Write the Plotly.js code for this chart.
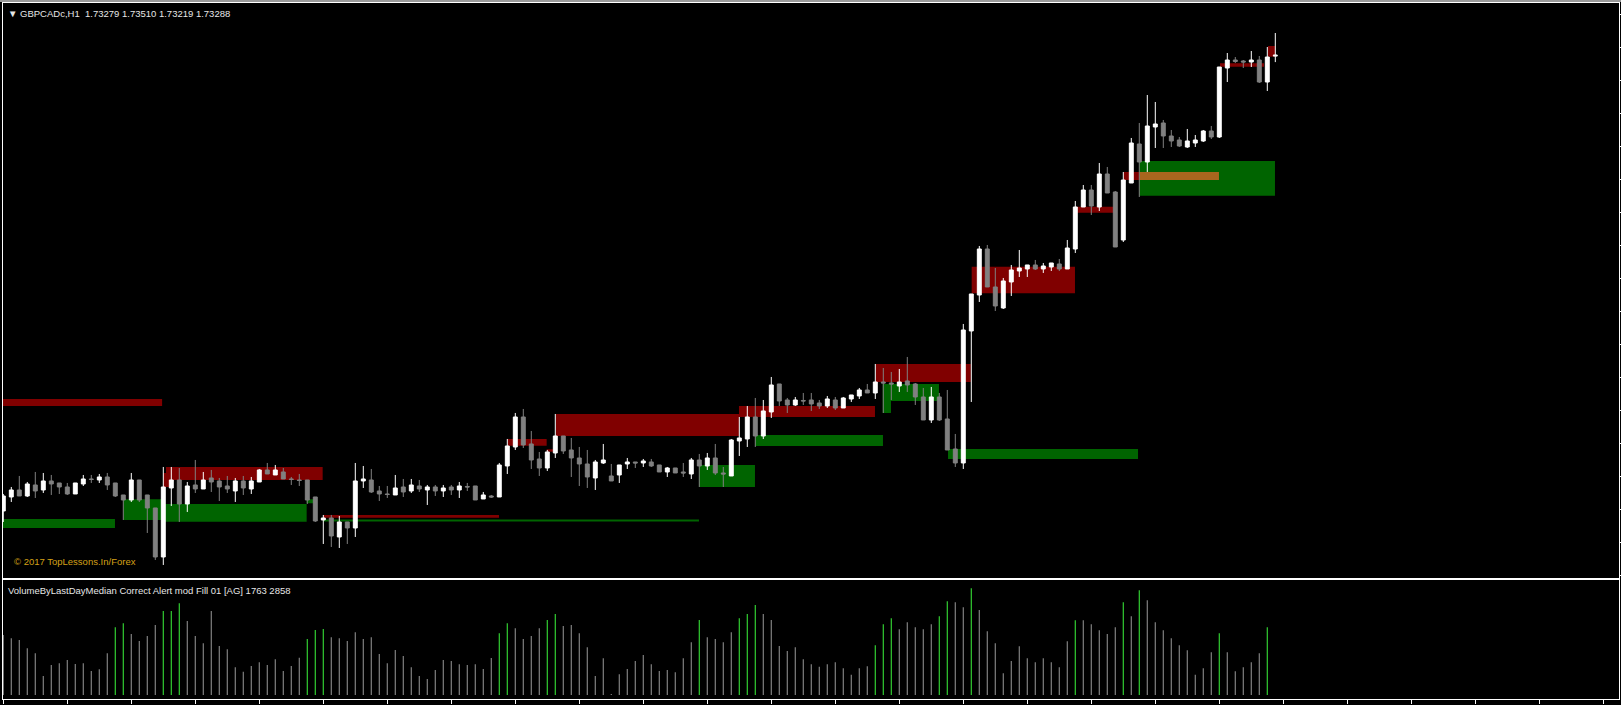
<!DOCTYPE html>
<html><head><meta charset="utf-8">
<script src="https://cdn.plot.ly/plotly-3.0.1.min.js"></script>
<style>html,body{margin:0;padding:0;background:#000;overflow:hidden}#chart{width:1621px;height:705px}</style>
</head><body><div id="chart"></div>
<script>
// ---- chart text ----
const symbol = "GBPCADc,H1";
const lastQuote = ["1.73279", "1.73510", "1.73219", "1.73288"];
const indicatorName = "VolumeByLastDayMedian Correct Alert mod Fill 01 [AG]";
const indicatorValues = ["1763", "2858"];
const watermark = "© 2017 TopLessons.In/Forex";

// ---- H1 candles (bar 0 = oldest visible) ----
const open = [
1.6873,1.6887,1.6894,1.6888,1.6899,1.6894,1.6903,1.6901,1.6897,1.6890,
1.6900,1.6905,1.6904,1.6907,1.6901,1.6889,1.6884,1.6904,1.6889,1.6876,
1.6827,1.6896,1.6904,1.6880,1.6899,1.6895,1.6906,1.6903,1.6898,1.6893,
1.6903,1.6895,1.6902,1.6914,1.6909,1.6912,1.6905,1.6904,1.6904,1.6887,
1.6864,1.6866,1.6847,1.6862,1.6856,1.6903,1.6904,1.6893,1.6890,1.6889,
1.6897,1.6893,1.6898,1.6894,1.6897,1.6893,1.6897,1.6894,1.68975,1.6898,
1.6885,1.6888,1.6887,1.6918,1.6937,1.6967,1.6940,1.6925,1.6916,1.6931,
1.6948,1.6934,1.6926,1.6920,1.6906,1.6921,1.6908,1.6909,1.6920,1.6922,
1.6921,1.6922,1.6919,1.6912,1.6916,1.6912,1.6910,1.6924,1.6918,1.6926,
1.6911,1.6908,1.6943,1.6945,1.6967,1.6948,1.6972,1.7000,1.6984,1.6979,
1.69835,1.6984,1.6981,1.6978,1.6984,1.6976,1.6985,1.6988,1.6994,1.6991,
1.7002,1.7001,1.6998,1.7003,1.7000,1.6987,1.6964,1.6987,1.6965,1.6935,
1.6921,1.7053,1.7089,1.7135,1.7097,1.7076,1.7102,1.7113,1.7115,1.7119,
1.7115,1.7117,1.7120,1.7115,1.7135,1.7177,1.7194,1.7177,1.7210,1.7192,
1.7144,1.7201,1.7240,1.7222,1.7257,1.7261,1.7248,1.7244,1.7237,1.7241,
1.7243,1.7253,1.7247,1.7316,1.7324,1.7323,1.7322,1.7324,1.7302,1.73279];
const high = [
1.6890,1.6897,1.6908,1.6902,1.6912,1.6911,1.6909,1.6901,1.6901,1.6901,
1.6909,1.6909,1.6910,1.6911,1.6901,1.6889,1.6911,1.6904,1.6889,1.6876,
1.6917,1.6917,1.6916,1.6902,1.6924,1.6912,1.6914,1.6906,1.6908,1.6906,
1.6908,1.6907,1.6915,1.6921,1.6919,1.6916,1.6907,1.6910,1.6904,1.6887,
1.6869,1.6869,1.6868,1.6862,1.6921,1.6918,1.6915,1.6898,1.6898,1.6909,
1.6905,1.6905,1.6904,1.6899,1.6899,1.6899,1.6899,1.6902,1.6901,1.6898,
1.6892,1.6889,1.6921,1.6945,1.6971,1.6975,1.6953,1.6932,1.6934,1.6970,
1.6948,1.6946,1.6937,1.6934,1.6924,1.6940,1.6920,1.6919,1.6926,1.6922,
1.6925,1.6925,1.6919,1.6917,1.6916,1.6921,1.6926,1.6930,1.6931,1.6940,
1.6917,1.6945,1.6967,1.6978,1.6986,1.6984,1.7007,1.7000,1.6986,1.6987,
1.6991,1.6991,1.6984,1.6988,1.6987,1.6987,1.6989,1.6996,1.7000,1.7020,
1.7016,1.7012,1.7015,1.7027,1.7001,1.6996,1.6997,1.6991,1.6994,1.6950,
1.7060,1.7090,1.7138,1.7139,1.7116,1.7106,1.7119,1.7134,1.7119,1.7124,
1.7121,1.7121,1.7125,1.7144,1.7183,1.7199,1.7199,1.7221,1.7217,1.7193,
1.7212,1.7246,1.7261,1.7289,1.7282,1.7264,1.7254,1.7247,1.7255,1.7249,
1.7254,1.7258,1.7317,1.7331,1.7327,1.7324,1.7333,1.7328,1.7337,1.73510];
const low = [
1.6862,1.6882,1.6888,1.6887,1.6886,1.6891,1.6889,1.6890,1.6889,1.6890,
1.6898,1.6901,1.6901,1.6894,1.6887,1.6864,1.6882,1.6882,1.6851,1.6824,
1.6819,1.6878,1.6862,1.6872,1.6891,1.6895,1.6892,1.6883,1.6891,1.6882,
1.6889,1.6890,1.6902,1.6910,1.6909,1.6905,1.6899,1.6898,1.6880,1.6862,
1.6840,1.6837,1.6836,1.6840,1.6847,1.6896,1.6891,1.6883,1.6886,1.6889,
1.6887,1.6891,1.6892,1.6879,1.6888,1.6887,1.6889,1.6886,1.6893,1.6884,
1.6885,1.6886,1.6887,1.6910,1.6934,1.6936,1.6915,1.6908,1.6913,1.6926,
1.6930,1.6907,1.6898,1.6896,1.6894,1.6920,1.6903,1.6901,1.6915,1.6916,
1.6917,1.6917,1.6912,1.6907,1.6911,1.6907,1.6905,1.6897,1.6914,1.6909,
1.6897,1.6908,1.6928,1.6937,1.6937,1.6945,1.6966,1.6978,1.6971,1.6978,
1.6979,1.6973,1.6975,1.6976,1.6974,1.6976,1.6982,1.6985,1.6991,1.6985,
1.6971,1.6984,1.6992,1.6992,1.6979,1.6964,1.6961,1.6963,1.6934,1.6917,
1.6915,1.6982,1.7082,1.7097,1.7073,1.7075,1.7088,1.7107,1.7107,1.7114,
1.7111,1.7113,1.7113,1.7115,1.7131,1.7177,1.7169,1.7173,1.7191,1.7137,
1.7142,1.7201,1.7187,1.7212,1.7236,1.7236,1.7237,1.7237,1.7236,1.7237,
1.7242,1.7245,1.7246,1.7302,1.7321,1.7316,1.7317,1.7301,1.7293,1.73219];
const close = [
1.6888,1.6894,1.6888,1.6900,1.6893,1.6903,1.6900,1.6897,1.6890,1.6901,
1.6905,1.69045,1.6907,1.6899,1.6888,1.6884,1.6904,1.6884,1.6876,1.6827,
1.6897,1.6904,1.6880,1.6898,1.6895,1.6904,1.6902,1.6897,1.6895,1.6903,
1.6896,1.6903,1.6914,1.6910,1.6914,1.6905,1.69045,1.69035,1.6884,1.6863,
1.6866,1.6848,1.6862,1.6856,1.6903,1.6905,1.6892,1.6890,1.68895,1.6896,
1.6892,1.6899,1.6895,1.6897,1.6893,1.6896,1.6894,1.6898,1.6897,1.6884,
1.6889,1.6887,1.6919,1.6938,1.6967,1.6939,1.6924,1.6916,1.6932,1.6948,
1.6933,1.6926,1.6920,1.6907,1.6922,1.6924,1.6903,1.6919,1.6922,1.6921,
1.6923,1.6918,1.6912,1.6916,1.6911,1.6911,1.6924,1.6918,1.6926,1.6911,
1.6910,1.6944,1.6946,1.6967,1.6948,1.6973,1.6999,1.6983,1.6979,1.6984,
1.6983,1.6980,1.6978,1.6985,1.6976,1.6986,1.6989,1.6994,1.6991,1.7002,
1.7001,1.7000,1.7002,1.6999,1.6987,1.6964,1.6987,1.6964,1.6934,1.6921,
1.7054,1.7090,1.7135,1.7097,1.7078,1.7103,1.7114,1.7116,1.7119,1.7115,
1.7118,1.7121,1.7115,1.7136,1.7177,1.7194,1.7178,1.7210,1.7191,1.7137,
1.7204,1.7241,1.7222,1.7258,1.7260,1.7248,1.7243,1.7238,1.7243,1.7244,
1.7253,1.7247,1.7317,1.7324,1.73225,1.7322,1.7324,1.7302,1.7327,1.73288];

// ---- indicator: tick volume per bar (current bar not drawn), bars flagged above last-day median ----
const volume = [
1620,1531,1485,1261,1126,513,810,856,945,837,
856,648,694,1126,1828,1936,1647,1458,1593,1890,
2268,2268,2476,1998,1593,1396,2268,1323,1234,748,
629,783,883,810,964,648,783,1007,1512,1755,
1782,1558,1531,1458,1693,1512,1558,1107,856,1215,
1053,748,513,432,675,945,918,829,810,829,
702,999,1666,1936,1801,1512,1593,1801,2025,2187,
1863,1890,1666,1288,513,991,27,559,702,918,
1080,829,648,675,613,991,1423,2025,1558,1512,
1423,1693,2071,2187,2430,2187,2025,1323,1188,1288,
964,829,764,829,883,721,548,721,775,1342,
1909,2071,1774,1963,1828,1774,1909,2125,2530,2503,
2368,2881,2295,1720,1396,586,918,1315,991,883,
991,883,748,1450,2017,2017,1909,1747,1647,1828,
2503,2125,2827,2557,1963,1747,1531,1342,1207,548,
721,1153,1666,1153,640,748,883,1126,1828,null];
const aboveMedianBars = [14,15,20,21,22,38,39,40,62,63,68,69,87,92,93,94,109,110,111,117,118,121,134,140,142,152,158];

// ---- supply / demand zones: start bar, end bar, top price, bottom price, kind ----
const zoneStart  = [-0.5, -0.5, 15.0, 20.0, 37.9, 20.34, 19.96, 39.96, 39.96, 63.05, 67.92, 69.09, 91.96, 86.96, 93.96, 109.05, 109.92, 109.92, 118.09, 121.05, 134.05, 142.0, 140.0, 142.0, 152.09, 158.09];
const zoneEnd    = [19.85, 13.96, 20.0, 37.92, 38.96, 39.92, 20.84, 61.96, 86.96, 67.92, 68.75, 91.96, 108.96, 93.96, 109.96, 120.93, 116.96, 110.96, 141.84, 133.96, 139.21, 158.96, 142.0, 151.96, 157.59, 159.0];
const zoneTop    = [1.6985, 1.6865, 1.68847, 1.6880, 1.68847, 1.6917, 1.6911, 1.6869, 1.68645, 1.6945, 1.69347, 1.6970, 1.6978, 1.6919, 1.6949, 1.7020, 1.7000, 1.6983, 1.6935, 1.71173, 1.71773, 1.7223, 1.7212, 1.7212, 1.73207, 1.7338];
const zoneBottom = [1.6978, 1.6856, 1.6864, 1.68623, 1.68807, 1.6904, 1.6897, 1.68663, 1.68625, 1.69383, 1.69323, 1.6948, 1.6967, 1.6897, 1.6938, 1.7002, 1.6983, 1.6971, 1.6925, 1.70907, 1.71713, 1.71883, 1.7204, 1.7204, 1.73173, 1.73273];
const zoneKind   = ["supply","demand","demand","demand","demand","supply","supply","supply","demand","supply","supply","supply","supply","demand","demand","supply","demand","demand","demand","supply","supply","demand","supply","overlap","supply","supply"];

const zoneColors = {supply: "#800000", demand: "#006400", overlap: "#a8661e"};
const bars = open.map((_, i) => i);
const greenSet = new Set(aboveMedianBars);

const font = "Liberation Sans, Arial, sans-serif";
const xRange = [-0.0375, 201.9625];

const candles = {
  type: "candlestick", x: bars, open: open, high: high, low: low, close: close,
  xaxis: "x", yaxis: "y", whiskerwidth: 0, hoverinfo: "skip",
  increasing: {line: {color: "#ffffff", width: 1}, fillcolor: "#ffffff"},
  decreasing: {line: {color: "#808080", width: 1}, fillcolor: "#808080"}
};
const vol = {
  type: "bar", x: bars, y: volume, xaxis: "x2", yaxis: "y2", width: 0.15,
  marker: {color: bars.map(i => greenSet.has(i) ? "#32cd32" : "#808080"), line: {width: 0}},
  hoverinfo: "skip"
};

const shapes = zoneStart.map((s, k) => ({
  type: "rect", xref: "x", yref: "y", layer: "below",
  x0: s, x1: zoneEnd[k], y0: zoneBottom[k], y1: zoneTop[k],
  fillcolor: zoneColors[zoneKind[k]], line: {width: 0}
}));
// window chrome strip above the chart frame
shapes.push({type: "rect", xref: "paper", yref: "paper", x0: -0.01, x1: 1.01, y0: 1.0015, y1: 1.01,
  fillcolor: "#9a9a9a", line: {width: 0}});

const axisCommon = {showgrid: false, zeroline: false, showline: true, mirror: true,
  linecolor: "#ffffff", linewidth: 1, showticklabels: false, fixedrange: true};

const layout = {
  width: 1621, height: 705, margin: {l: 3, r: 2, t: 3, b: 6},
  paper_bgcolor: "#000000", plot_bgcolor: "#000000", showlegend: false,
  font: {family: font, color: "#ffffff"},
  xaxis: Object.assign({}, axisCommon, {anchor: "y", range: xRange, ticks: "", rangeslider: {visible: false}}),
  yaxis: Object.assign({}, axisCommon, {domain: [0.1739, 1], anchor: "x", range: [1.6806, 1.7381], side: "right",
    ticks: "outside", ticklen: 3, tickcolor: "#ffffff", tickmode: "linear", tick0: 1.73697, dtick: 0.0033}),
  xaxis2: Object.assign({}, axisCommon, {anchor: "y2", range: xRange, ticks: "outside", ticklen: 4,
    tickcolor: "#ffffff", tickmode: "linear", tick0: 0, dtick: 8}),
  yaxis2: Object.assign({}, axisCommon, {domain: [0, 0.1703], anchor: "x2", range: [-108, 3091.5], ticks: ""}),
  shapes: shapes,
  annotations: [
    {xref: "paper", yref: "paper", x: 0.0019, y: 0.9856, xanchor: "left", yanchor: "middle", showarrow: false,
     text: "▼ " + symbol + "\u00a0\u00a0" + lastQuote.join(" "), font: {family: font, size: 9.5, color: "#e6e6e6"}},
    {xref: "paper", yref: "paper", x: 0.0058, y: 0.1973, xanchor: "left", yanchor: "middle", showarrow: false,
     text: watermark, font: {family: font, size: 9.5, color: "#d4a017"}},
    {xref: "paper", yref: "paper", x: 0.0020, y: 0.1566, xanchor: "left", yanchor: "middle", showarrow: false,
     text: indicatorName + " " + indicatorValues.join(" "), font: {family: font, size: 9.5, color: "#e6e6e6"}}
  ]
};

Plotly.newPlot("chart", [candles, vol], layout, {staticPlot: true, displayModeBar: false});
</script></body></html>
